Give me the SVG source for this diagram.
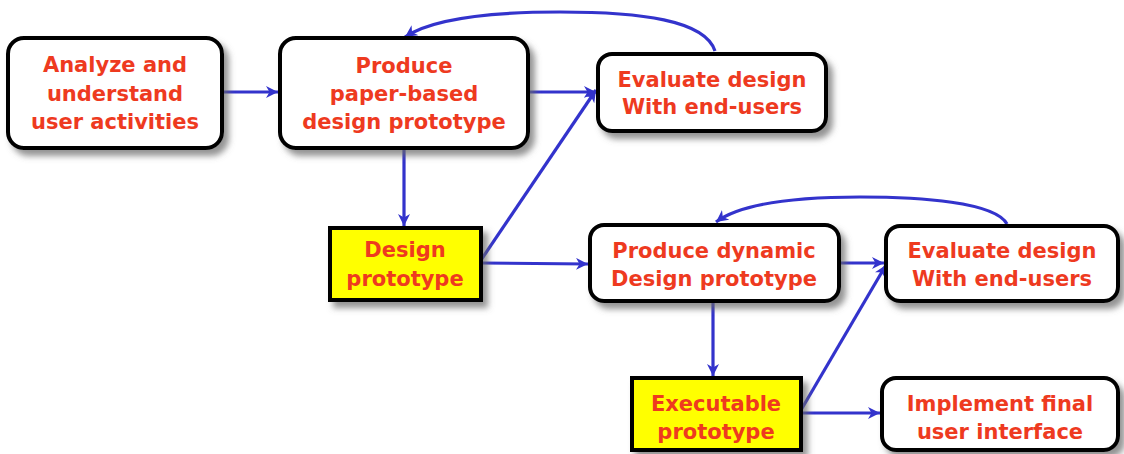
<svg xmlns="http://www.w3.org/2000/svg" width="1124" height="454" viewBox="0 0 1124 454">
<style>
.box{fill:#ffffff;stroke:#000;stroke-width:4;filter:url(#sh)}
.ybox{fill:#ffff00;stroke:#000;stroke-width:4;filter:url(#sh)}
.t{font-family:"DejaVu Sans",sans-serif;font-weight:bold;font-size:21px;fill:#ee3a1f;text-anchor:middle}
.c{fill:none;stroke:#3333cc;stroke-width:3.2}
.a{marker-end:url(#ah)}
</style>
<defs>
<filter id="sh" x="-10%" y="-15%" width="125%" height="140%">
<feDropShadow dx="5" dy="6" stdDeviation="3" flood-color="#666" flood-opacity="0.7"/>
</filter>
<marker id="ah" markerWidth="14" markerHeight="12" refX="12" refY="6" orient="auto" markerUnits="userSpaceOnUse">
<path d="M0,0 L12,6 L0,12 L3.5,6 Z" fill="#3333cc"/>
</marker>
</defs>
<rect width="1124" height="454" fill="#ffffff"/>
<g id="connectors">
<path class="c a" d="M222,92 L278,92"/>
<path class="c a" d="M528,92 L596,92"/>
<path class="c a" d="M481,260 L596,90"/>
<path class="c a" d="M404,149 L404,226"/>
<path class="c a" d="M481,263 L588,264"/>
<path class="c a" d="M715,51 C705,20 640,12 560,12 C480,12 430,20 405,37"/>
<path class="c a" d="M839,263 L884,263"/>
<path class="c a" d="M801,410 L886,265"/>
<path class="c a" d="M713,302 L713,376"/>
<path class="c a" d="M801,413 L880,413"/>
<path class="c a" d="M1007,224 C995,202 920,197 860,197 C790,197 740,204 716,222"/>
</g>
<g id="n1"><rect class="box" x="8" y="38" width="214" height="110" rx="16"/>
<text class="t" x="115" y="72">Analyze and</text><text class="t" x="115" y="101">understand</text><text class="t" x="115" y="129">user activities</text></g>
<g id="n2"><rect class="box" x="280" y="38" width="248" height="110" rx="16"/>
<text class="t" x="404" y="73">Produce</text><text class="t" x="404" y="101">paper-based</text><text class="t" x="404" y="129">design prototype</text></g>
<g id="n3"><rect class="box" x="598" y="54" width="228" height="77" rx="14"/>
<text class="t" x="712" y="87">Evaluate design</text><text class="t" x="712" y="114">With end-users</text></g>
<g id="n4"><rect class="ybox" x="330" y="228" width="151" height="72"/>
<text class="t" x="405" y="257">Design</text><text class="t" x="405" y="286">prototype</text></g>
<g id="n5"><rect class="box" x="590" y="225" width="249" height="76" rx="14"/>
<text class="t" x="714" y="258">Produce dynamic</text><text class="t" x="714" y="286">Design prototype</text></g>
<g id="n6"><rect class="box" x="886" y="226" width="232" height="75" rx="14"/>
<text class="t" x="1002" y="258">Evaluate design</text><text class="t" x="1002" y="286">With end-users</text></g>
<g id="n7"><rect class="ybox" x="632" y="378" width="169" height="72"/>
<text class="t" x="716" y="411">Executable</text><text class="t" x="716" y="439">prototype</text></g>
<g id="n8"><rect class="box" x="882" y="378" width="236" height="72" rx="14"/>
<text class="t" x="1000" y="411">Implement final</text><text class="t" x="1000" y="439">user interface</text></g>
</svg>
